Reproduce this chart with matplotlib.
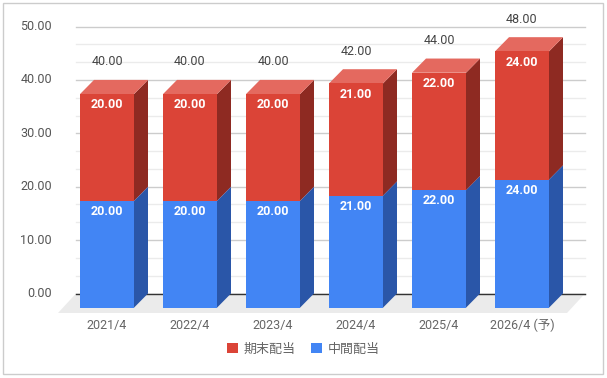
import numpy as np
import matplotlib.pyplot as plt
from matplotlib.patches import Polygon, Patch, Rectangle

plt.rcParams['font.family'] = ['Roboto', 'Noto Sans CJK JP', 'DejaVu Sans']

years = ['2021/4', '2022/4', '2023/4', '2024/4', '2025/4', '2026/4 (予)']
interim = [20, 20, 20, 21, 22, 24]   # 中間配当
final = [20, 20, 20, 21, 22, 24]     # 期末配当
totals = [40, 40, 40, 42, 44, 48]
yticks = [0, 10, 20, 30, 40, 50]

blue = ('#4285F4', '#2A56A8', '#6E9FF6')   # front, side, top
red = ('#DB4437', '#8E2A22', '#E4695F')

# pixel scale of the original: 83 px per category, 5.34 px per unit
px_x = 83.0
px_y = 5.34
depth_x = 14.0 / px_x
depth_y = 14.2 / px_y
w = 54.0 / px_x
fs = 9.0

fig = plt.figure(figsize=(6.07, 3.78), dpi=100)
ax = fig.add_axes([0, 0, 1, 1])
ax.set_xlim((0 - 107) / px_x, (607 - 107) / px_x)
ax.set_ylim((307.7 - 378) / px_y, 307.7 / px_y)
ax.axis('off')

# back wall gridlines
gx0 = (76 - 107) / px_x
gx1 = (585 - 107) / px_x
for v in np.arange(0, 50.01, 10 / 3):
    major = abs(v / 10 - round(v / 10)) < 1e-6
    ax.plot([gx0, gx1], [v + depth_y] * 2,
            color='#CCCCCC' if major else '#EBEBEB', lw=1, zorder=1)

# floor
fx0 = (58 - 107) / px_x
fx1 = (567 - 107) / px_x
ffront = (307.7 - 313) / px_y
ax.add_patch(Polygon([(fx0, ffront), (fx1, ffront), (gx1, depth_y), (gx0, depth_y)],
                     closed=True, fc='#EBEBEB', ec='none', zorder=1.5))
ax.plot([gx0, gx1], [depth_y, depth_y], color='#333333', lw=1, zorder=2)

def box(x, y0, y1, cols):
    l, r = x - w / 2, x + w / 2
    front = [(l, y0), (r, y0), (r, y1), (l, y1)]
    side = [(r, y0), (r + depth_x, y0 + depth_y), (r + depth_x, y1 + depth_y), (r, y1)]
    top = [(l, y1), (r, y1), (r + depth_x, y1 + depth_y), (l + depth_x, y1 + depth_y)]
    ax.add_patch(Polygon(side, closed=True, fc=cols[1], ec='none', zorder=3))
    ax.add_patch(Polygon(top, closed=True, fc=cols[2], ec='none', zorder=3))
    ax.add_patch(Polygon(front, closed=True, fc=cols[0], ec='none', zorder=3))

for i in range(len(years)):
    box(i, 0, interim[i], blue)
    box(i, interim[i], interim[i] + final[i], red)
    ax.text(i, interim[i] - 2.0, f'{interim[i]:.2f}', color='white', fontsize=fs,
            fontweight='bold', ha='center', va='center', zorder=5)
    ax.text(i, interim[i] + final[i] - 2.0, f'{final[i]:.2f}', color='white', fontsize=fs,
            fontweight='bold', ha='center', va='center', zorder=5)
    ax.text(i, totals[i] + depth_y + 18 / px_y, f'{totals[i]:.2f}', color='#444444',
            fontsize=fs, ha='center', va='center', zorder=5)
    ax.text(i, (307.7 - 325) / px_y, years[i], color='#666666', fontsize=fs,
            ha='center', va='center')

for v in yticks:
    ax.text((52 - 107) / px_x, v + depth_y, f'{v:.2f}', color='#555555', fontsize=fs,
            ha='right', va='center')

handles = [Patch(fc=red[0], ec='none', label='期末配当'),
           Patch(fc=blue[0], ec='none', label='中間配当')]
fig.legend(handles=handles, loc='center', bbox_to_anchor=(0.5, 1 - 349 / 378), ncol=2,
           frameon=False, fontsize=9.4, handlelength=0.85, handleheight=0.85,
           handletextpad=0.4, columnspacing=1.2, labelcolor='#666666')

fig.patches.append(Rectangle((3 / 607, 4 / 378), 600 / 607, 371 / 378,
                             transform=fig.transFigure, fill=False, ec='#CCCCCC', lw=1))

fig.savefig('out.png', dpi=100)
